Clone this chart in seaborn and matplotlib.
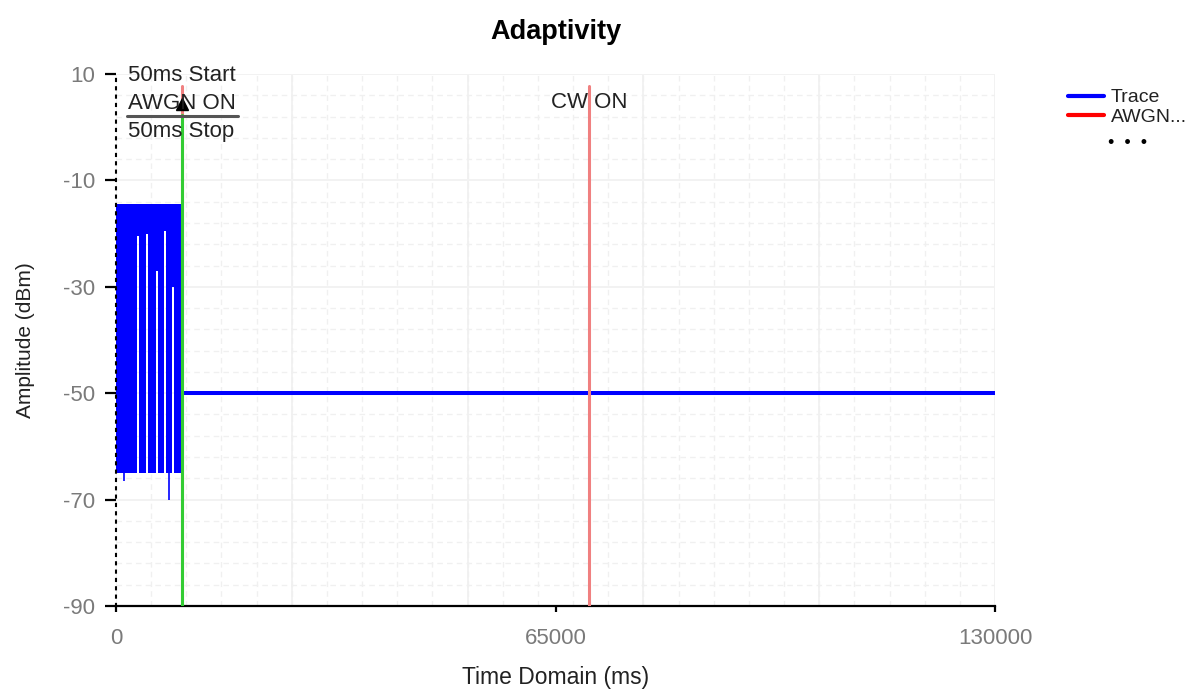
import numpy as np
import pandas as pd
import matplotlib.pyplot as plt
from matplotlib.lines import Line2D
import seaborn as sns

# values
# burst of the trace before the 50ms stop (envelope of a very fast signal)
burst_start_ms = 0
burst_end_ms = 9600
burst_top_dbm = -14.5
burst_floor_dbm = -65
# white gaps inside the burst: position and where the blue starts again from above
gap_ms = [3250, 4600, 6050, 7250, 8450]
gap_top_dbm = [-20.5, -20, -27, -19.5, -30]
gap_width_ms = 200
# single dips below the burst
dip_ms = [1150, 7850]
dip_dbm = [-66.5, -70]
# steady part of the trace after the 50ms stop
steady_ms = [9900, 130000]
steady_dbm = [-50, -50]

stop_ms = 9800           # 50ms Start / AWGN ON / 50ms Stop marker
cw_on_ms = 70000         # CW ON marker
awgn_top_dbm = [7.7, 7.7]
stop_top_dbm = 2.3

x_ticks = [0, 65000, 130000]
y_ticks = [10, -10, -30, -50, -70, -90]

sns.set_theme(style="white")
plt.rcParams['font.family'] = ['Liberation Sans', 'DejaVu Sans']

fig = plt.figure(figsize=(11.91, 6.95), dpi=100)
ax = fig.add_axes([116 / 1191, 1 - 606 / 695, 879 / 1191, 532 / 695])

blue = '#0000ff'

# grid: minor dashed, major solid
ax.set_xticks(np.arange(0, 130001, 5200), minor=True)
ax.set_yticks(np.arange(-90, 11, 4), minor=True)
ax.grid(which='minor', color='#f0f0f0', linestyle=(0, (4, 3)), linewidth=1.0)
for xv in np.arange(0, 130001, 26000):
    ax.axvline(xv, color='#f2f2f2', linewidth=1.4, zorder=0.5)
for yv in y_ticks:
    ax.axhline(yv, color='#f2f2f2', linewidth=1.4, zorder=0.5)

# burst envelope with gaps
env_x = [burst_start_ms]
env_lo = [burst_floor_dbm]
for g, top in zip(gap_ms, gap_top_dbm):
    env_x += [g - gap_width_ms / 2, g - gap_width_ms / 2, g + gap_width_ms / 2, g + gap_width_ms / 2]
    env_lo += [burst_floor_dbm, top, top, burst_floor_dbm]
env_x.append(burst_end_ms)
env_lo.append(burst_floor_dbm)
ax.fill_between(env_x, env_lo, burst_top_dbm, color=blue, linewidth=0, zorder=2)
ax.vlines(dip_ms, burst_floor_dbm, dip_dbm, color=blue, linewidth=1.2, zorder=2)

# steady trace
df = pd.DataFrame({'Time Domain (ms)': steady_ms, 'Amplitude (dBm)': steady_dbm})
sns.lineplot(data=df, x='Time Domain (ms)', y='Amplitude (dBm)', color=blue,
             linewidth=2.9, ax=ax, zorder=3)

# markers
ax.plot([stop_ms, stop_ms], [-90, awgn_top_dbm[0]], color='#f08080', linewidth=2.2, zorder=3)
ax.plot([cw_on_ms, cw_on_ms], [-90, awgn_top_dbm[1]], color='#f08080', linewidth=2.2, zorder=3)
ax.plot([stop_ms, stop_ms], [-90, stop_top_dbm], color='#33cc33', linewidth=2.2, zorder=4)
ax.plot([stop_ms], [4.3], marker='^', color='black', markersize=8, zorder=5)

ax.plot([1630, 18040], [2.1, 2.1], color='#555555', linewidth=2.2, zorder=4)
txt_kw = dict(fontsize=16, color='#222222', va='center', zorder=6)
ax.text(1750, 9.8, '50ms Start', ha='left', **txt_kw)
ax.text(1750, 4.5, 'AWGN ON', ha='left', **txt_kw)
ax.text(1750, -0.9, '50ms Stop', ha='left', **txt_kw)
ax.text(cw_on_ms, 4.7, 'CW ON', ha='center', **txt_kw)

ax.set_xlim(0, 130000)
ax.set_ylim(-90, 10)
ax.set_xticks(x_ticks)
ax.set_yticks(y_ticks)
ax.set_xticklabels([str(v) for v in x_ticks])
ax.set_yticklabels([str(v) for v in y_ticks])
ax.tick_params(axis='both', which='major', labelsize=16, labelcolor='#7a7a7a', color='black',
               width=1.6, direction='out', bottom=True, left=True)
ax.tick_params(axis='both', which='minor', length=0)
ax.tick_params(axis='x', length=4, pad=12)
ax.tick_params(axis='y', length=8, pad=7)

for s in ['top', 'right']:
    ax.spines[s].set_visible(False)
ax.spines['bottom'].set_color('black')
ax.spines['bottom'].set_linewidth(1.6)
ax.spines['left'].set_color('black')
ax.spines['left'].set_linewidth(1.5)
ax.spines['left'].set_linestyle((0, (1, 3)))

ax.set_xlabel('Time Domain (ms)', fontsize=16.5, color='#222222', labelpad=12)
ax.set_ylabel('Amplitude (dBm)', fontsize=15, color='#222222', labelpad=20)
ax.set_title('Adaptivity', fontsize=19.5, fontweight='bold', color='black', pad=25)

handles = [Line2D([], [], color=blue, linewidth=3), Line2D([], [], color='#ff0000', linewidth=3)]
fig.legend(handles, ['Trace', 'AWGN...'], loc='upper left', bbox_to_anchor=(1060 / 1191, 1 - 81 / 695),
           frameon=False, fontsize=14, handlelength=1.85, handletextpad=0.35, labelspacing=0.08,
           labelcolor='#222222', borderaxespad=0)
fig.text(1128 / 1191, 1 - 143 / 695, '•  •  •', fontsize=13, ha='center', va='center', color='black')

fig.savefig('out.png', dpi=100)
